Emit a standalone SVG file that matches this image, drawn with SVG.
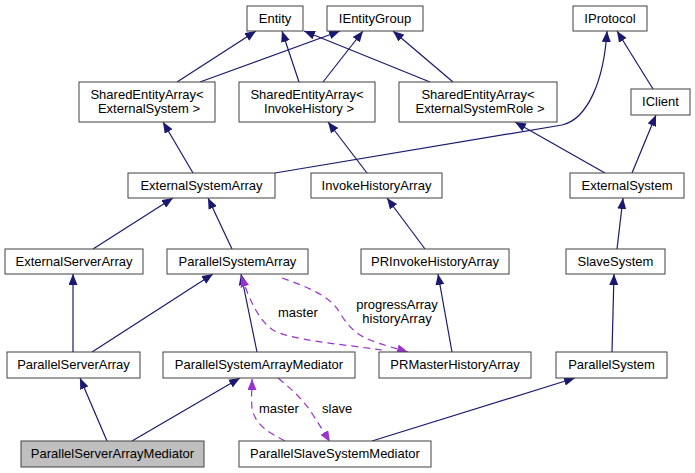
<svg xmlns="http://www.w3.org/2000/svg" width="695" height="473" viewBox="0 0 695 473">
<style>
  .n rect { fill: #ffffff; stroke: #404040; stroke-width: 1; }
  .n.cur rect { fill: #bfbfbf; }
  .n text { font-family: "Liberation Sans", Arial, sans-serif; font-size: 13px; fill: #000000; text-anchor: middle; }
  .e { fill: none; stroke: #191970; stroke-width: 1.2; marker-end: url(#ah); }
  .d { fill: none; stroke: #9a32cd; stroke-width: 1.2; stroke-dasharray: 7,5; marker-end: url(#ahp); }
  .lbl { font-family: "Liberation Sans", Arial, sans-serif; font-size: 13px; fill: #000000; }
</style>
<defs>
  <marker id="ah" markerUnits="userSpaceOnUse" viewBox="0 0 11 9" markerWidth="11" markerHeight="9" refX="11" refY="4.5" orient="auto">
    <path d="M0,0 L11,4.5 L0,9 z" fill="#191970"/>
  </marker>
  <marker id="ahp" markerUnits="userSpaceOnUse" viewBox="0 0 11 9" markerWidth="11" markerHeight="9" refX="11" refY="4.5" orient="auto">
    <path d="M0,0 L11,4.5 L0,9 z" fill="#9a32cd"/>
  </marker>
</defs>
<rect width="695" height="473" fill="#ffffff"/>

<g id="edges">
  <path class="e" d="M177,82 L256,31"/>
  <path class="e" d="M200,82 L340,31"/>
  <path class="e" d="M299,82 L282,31"/>
  <path class="e" d="M323,82 L363,31"/>
  <path class="e" d="M430,82 L304,31"/>
  <path class="e" d="M453,82 L393,31"/>
  <path class="e" d="M193,173 L163,122"/>
  <path class="e" d="M275,173 L562,125 C588,119 604,80 607,31"/>
  <path class="e" d="M367,173 L328,122"/>
  <path class="e" d="M605,173 L515,122"/>
  <path class="e" d="M632,173 L656,115"/>
  <path class="e" d="M653,89 L617,31"/>
  <path class="e" d="M93,249 L173,198"/>
  <path class="e" d="M232,249 L208,198"/>
  <path class="e" d="M425,249 L387,198"/>
  <path class="e" d="M617,249 L623,198"/>
  <path class="e" d="M73,352 L73,274"/>
  <path class="e" d="M92,352 L213,274"/>
  <path class="e" d="M257,352 L241,274"/>
  <path class="e" d="M452,352 L438,274"/>
  <path class="e" d="M612,352 L614,274"/>
  <path class="e" d="M107,441 L80,378"/>
  <path class="e" d="M132,441 L240,378"/>
  <path class="e" d="M372,441 L575,378"/>
  <path class="d" d="M382,350 C340,344 290,340 273,330 C258,320 250,300 241,276"/>
  <path class="d" d="M282,278 C310,288 330,296 340,313 C350,330 360,337 378,343 C390,347 398,349 408,352"/>
  <path class="d" d="M285,441 C268,432 255,425 252,408 C251,398 252,390 252,379"/>
  <path class="d" d="M278,378 C295,392 305,402 313,415 C320,426 324,432 330,442"/>
  <text class="lbl" x="278" y="317">master</text>
  <text class="lbl" x="397" y="309" text-anchor="middle">progressArray</text>
  <text class="lbl" x="397" y="323" text-anchor="middle">historyArray</text>
  <text class="lbl" x="259" y="413">master</text>
  <text class="lbl" x="322" y="413">slave</text>
</g>

<g id="Entity" class="n"><rect x="247" y="6" width="56" height="25"/><text x="275" y="23">Entity</text></g>
<g id="IEntityGroup" class="n"><rect x="327" y="6" width="96" height="25"/><text x="375" y="23">IEntityGroup</text></g>
<g id="IProtocol" class="n"><rect x="573" y="6" width="74" height="25"/><text x="610" y="23">IProtocol</text></g>
<g id="SharedEntityArray_ExternalSystem" class="n"><rect x="79" y="82" width="136" height="40"/><text x="147" y="99">SharedEntityArray&lt;</text><text x="149" y="113">ExternalSystem &gt;</text></g>
<g id="SharedEntityArray_InvokeHistory" class="n"><rect x="239" y="82" width="136" height="40"/><text x="307" y="99">SharedEntityArray&lt;</text><text x="309" y="113">InvokeHistory &gt;</text></g>
<g id="SharedEntityArray_ExternalSystemRole" class="n"><rect x="399" y="82" width="158" height="40"/><text x="478" y="99">SharedEntityArray&lt;</text><text x="480" y="113">ExternalSystemRole &gt;</text></g>
<g id="IClient" class="n"><rect x="631" y="89" width="59" height="26"/><text x="660.5" y="106">IClient</text></g>
<g id="ExternalSystemArray" class="n"><rect x="128" y="173" width="147" height="25"/><text x="201.5" y="190">ExternalSystemArray</text></g>
<g id="InvokeHistoryArray" class="n"><rect x="311" y="173" width="131" height="25"/><text x="376.5" y="190">InvokeHistoryArray</text></g>
<g id="ExternalSystem" class="n"><rect x="570" y="173" width="114" height="25"/><text x="627" y="190">ExternalSystem</text></g>
<g id="ExternalServerArray" class="n"><rect x="5" y="249" width="138" height="25"/><text x="74" y="266">ExternalServerArray</text></g>
<g id="ParallelSystemArray" class="n"><rect x="167" y="249" width="141" height="25"/><text x="237.5" y="266">ParallelSystemArray</text></g>
<g id="PRInvokeHistoryArray" class="n"><rect x="361" y="249" width="148" height="25"/><text x="435" y="266">PRInvokeHistoryArray</text></g>
<g id="SlaveSystem" class="n"><rect x="566" y="249" width="99" height="25"/><text x="615.5" y="266">SlaveSystem</text></g>
<g id="ParallelServerArray" class="n"><rect x="7" y="352" width="133" height="26"/><text x="73.5" y="369">ParallelServerArray</text></g>
<g id="ParallelSystemArrayMediator" class="n"><rect x="163" y="352" width="192" height="26"/><text x="259" y="369">ParallelSystemArrayMediator</text></g>
<g id="PRMasterHistoryArray" class="n"><rect x="379" y="352" width="152" height="26"/><text x="455" y="369">PRMasterHistoryArray</text></g>
<g id="ParallelSystem" class="n"><rect x="556" y="352" width="111" height="26"/><text x="611.5" y="369">ParallelSystem</text></g>
<g id="ParallelServerArrayMediator" class="n cur"><rect x="21" y="441" width="183" height="26"/><text x="112.5" y="458">ParallelServerArrayMediator</text></g>
<g id="ParallelSlaveSystemMediator" class="n"><rect x="239" y="441" width="192" height="26"/><text x="335" y="458">ParallelSlaveSystemMediator</text></g>
</svg>
